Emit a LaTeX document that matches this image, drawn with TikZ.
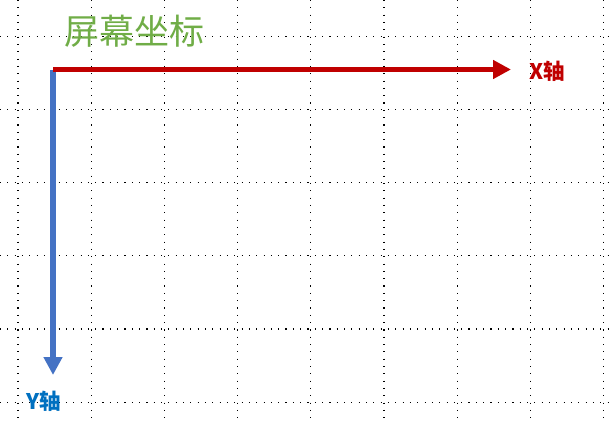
\documentclass[tikz,border=0pt]{standalone}
\usepackage{fontspec}
\usepackage{xcolor}
\usetikzlibrary{arrows.meta, positioning}
\newfontfamily\cjk{Noto Sans CJK SC}
\definecolor{axisred}{HTML}{C00000}
\definecolor{axisblue}{HTML}{4472C4}
\definecolor{labelblue}{HTML}{0070C0}
\definecolor{titlegreen}{HTML}{70AD47}

\begin{document}
\begin{tikzpicture}[
    x=1pt, y=-1pt,
    gridline/.style={black, line width=1.1pt, dash pattern=on 1.1pt off 6.22pt},
    axis/.style={line width=5.5pt, -{Triangle[length=18pt, width=18pt]}},
    axislabel/.style={inner sep=0pt, font=\cjk\bfseries\fontsize{21.5}{25}\selectfont}
]
\useasboundingbox (0,0) rectangle (612,423);
% dotted grid
\foreach \gx in {18,91.2,164.4,237.6,310.8,384,457.2,530.4,603.6}
  \draw[gridline] (\gx,0) -- (\gx,423);
\foreach \gy in {36.2,109.4,182.6,255.8,329,402.2}
  \draw[gridline] (0,\gy) -- (612,\gy);

\node[inner sep=0pt, text=titlegreen, font=\cjk\fontsize{35}{40}\selectfont] (title) at (134,31) {屏幕坐标};

\coordinate (origin) at (53,69.5);
\coordinate (xend) at (511,69.5);
\coordinate (yend) at (53,375);

\draw[axis, axisblue] (origin) -- (yend);
\draw[axis, axisred] (origin) -- (xend);

\node[axislabel, text=axisred] (xlabel) at (547,71) {X轴};
\node[axislabel, text=labelblue] (ylabel) at (44,401) {Y轴};
\end{tikzpicture}
\end{document}
